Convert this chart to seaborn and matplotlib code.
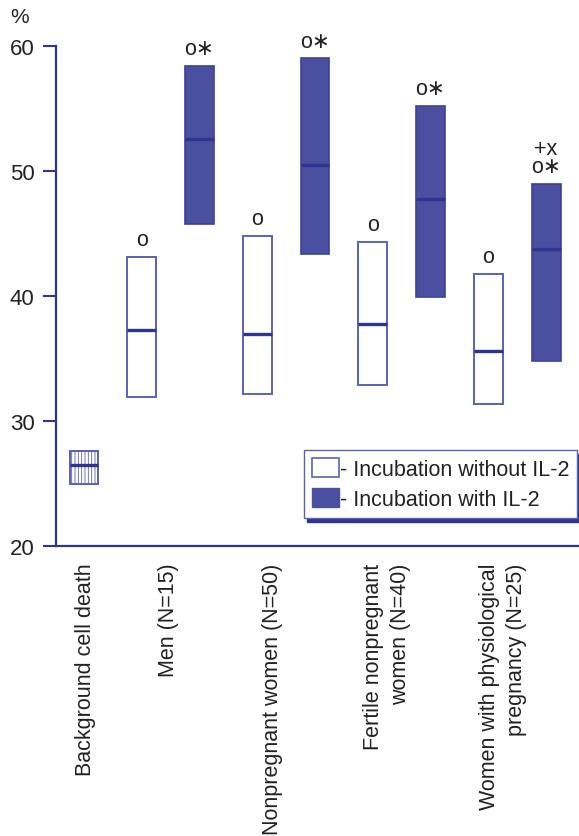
import numpy as np
import pandas as pd
import seaborn as sns
import matplotlib.pyplot as plt
from matplotlib.patches import Patch

# box positions (0 = background, then without/with IL-2 pairs)
positions = [0, 1, 2, 3, 4, 5, 6, 7, 8]
kinds = ["background", "without", "with", "without", "with",
         "without", "with", "without", "with"]
low = [25.0, 31.9, 45.8, 32.2, 43.4, 32.9, 39.9, 31.4, 34.8]
high = [27.6, 43.1, 58.4, 44.8, 59.0, 44.3, 55.2, 41.8, 49.0]
median = [26.5, 37.3, 52.6, 37.0, 50.5, 37.8, 47.8, 35.6, 43.8]
marks = ["", "o", "o\u2217", "o", "o\u2217", "o", "o\u2217", "o", "+x\no\u2217"]

# x labels and where they sit
group_labels = ["Background cell death", "Men (N=15)", "Nonpregnant women (N=50)",
                "Fertile nonpregnant\nwomen (N=40)",
                "Women with physiological\npregnancy (N=25)"]
label_pos = [0.03, 1.47, 3.26, 5.25, 7.25]

navy = "#2f3391"
fill_blue = "#4b4f9f"
light_edge = "#5d61b2"

df = pd.DataFrame({"pos": positions, "height": np.array(high) - np.array(low),
                   "low": low, "kind": kinds})

sns.set_style("white")
plt.rcParams["font.family"] = ["Liberation Sans", "DejaVu Sans"]
plt.rcParams["hatch.linewidth"] = 0.6

fig = plt.figure(figsize=(5.79, 8.37), dpi=100)
ax = fig.add_axes([56 / 579, 290 / 837, 523 / 579, 500 / 837])

# floating bars: bottom = low end of range
sns.barplot(data=df, x="pos", y="height", bottom=df["low"].values, width=0.5,
            errorbar=None, color=fill_blue, saturation=1, ax=ax)

for patch, kind in zip(ax.patches, kinds):
    if kind == "with":
        patch.set_facecolor(fill_blue)
        patch.set_edgecolor("#3d4199")
        patch.set_linewidth(1.2)
    elif kind == "without":
        patch.set_facecolor("white")
        patch.set_edgecolor(light_edge)
        patch.set_linewidth(1.4)
    else:
        patch.set_facecolor("white")
        patch.set_edgecolor("#5a5eb0")
        patch.set_hatch("|||||")
        patch.set_linewidth(1.4)

pos = np.array(positions)
ax.hlines(median, pos - 0.25, pos + 0.25, color=navy, lw=2.4, zorder=5)

for p, h, m in zip(positions, high, marks):
    if m:
        ax.annotate(m, (p, h), xytext=(0, 5), textcoords="offset points",
                    ha="center", va="bottom", fontsize=15.5, linespacing=0.8,
                    color="#222222", annotation_clip=False)

ax.set_ylim(20, 60)
ax.set_xlim(-0.485, 8.57)
ax.set_yticks([20, 30, 40, 50, 60])
ax.set_xticks(label_pos)
ax.set_xticklabels(group_labels, rotation=90, va="top", ha="center",
                   multialignment="right", fontsize=15.5, color="#222222",
                   linespacing=1.35)
ax.tick_params(axis="x", length=0, pad=12)
ax.tick_params(axis="y", length=9.5, width=1.5, color=navy, pad=6,
               labelsize=16, labelcolor="#222222", left=True)
ax.set_xlabel("")
ax.set_ylabel("")

for s in ["top", "right"]:
    ax.spines[s].set_visible(False)
for s in ["left", "bottom"]:
    ax.spines[s].set_color(navy)
    ax.spines[s].set_linewidth(1.6)

handles = [Patch(facecolor="white", edgecolor=light_edge, lw=1.2),
           Patch(facecolor=fill_blue, edgecolor=fill_blue)]
leg = fig.legend(handles, ["- Incubation without IL-2", "- Incubation with IL-2"],
                 loc="upper right", bbox_to_anchor=(577 / 579, 1 - 451 / 837),
                 fontsize=15.5, frameon=True, fancybox=False, framealpha=1,
                 edgecolor=light_edge, handlelength=1.25, handleheight=1.0,
                 handletextpad=0.05, labelspacing=0.4, borderpad=0.35,
                 borderaxespad=0,
                 shadow={"ox": 2, "oy": -3, "color": navy, "alpha": 1})
for t in leg.get_texts():
    t.set_color("#222222")

fig.text(10 / 579, 1 - 8 / 837, "%", fontsize=15, va="top", ha="left",
         color="#222222")

fig.savefig("out.png", dpi=100)
